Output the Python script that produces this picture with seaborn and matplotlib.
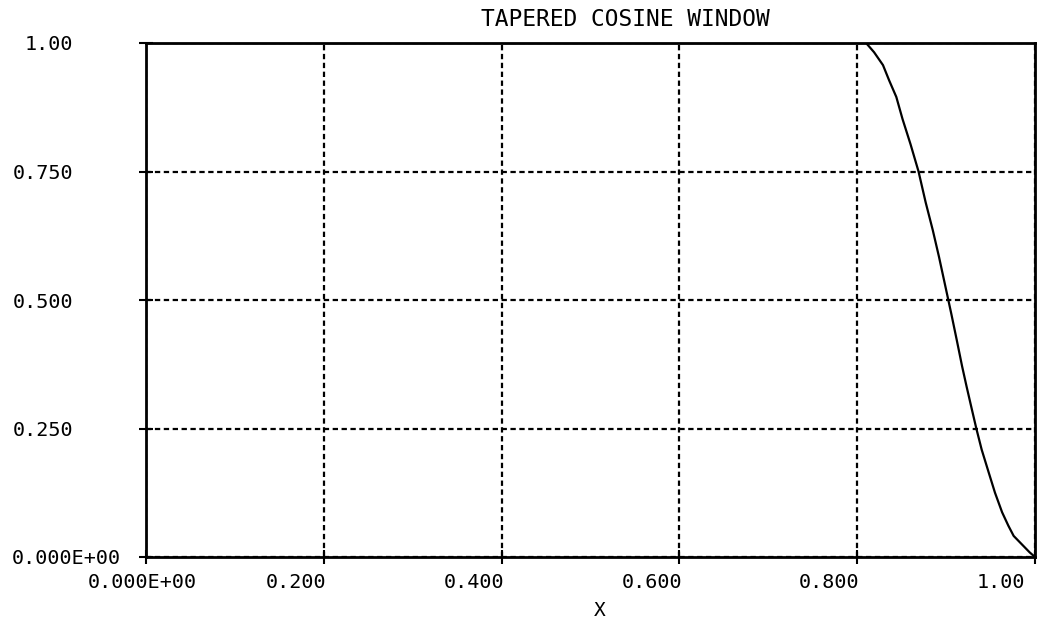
import numpy as np
import pandas as pd
import matplotlib
matplotlib.use("Agg")
import matplotlib.pyplot as plt
from matplotlib.transforms import ScaledTranslation
import seaborn as sns

# Tapered cosine window: flat at 1 then rolls off to 0 at the end of the record
window_x = [0.000, 0.810, 0.819, 0.829, 0.836, 0.844, 0.851, 0.860, 0.869,
            0.877, 0.885, 0.892, 0.900, 0.906, 0.912, 0.918, 0.923,
            0.929, 0.934, 0.940, 0.948, 0.955, 0.963, 0.970, 0.976, 0.985,
            0.994, 1.000]
window_y = [1.000, 1.000, 0.982, 0.957, 0.927, 0.895, 0.852, 0.803, 0.750,
            0.690, 0.636, 0.584, 0.520, 0.472, 0.422, 0.371, 0.332,
            0.287, 0.250, 0.209, 0.164, 0.125, 0.087, 0.061, 0.041, 0.025,
            0.009, 0.000]

x_ticks = [0.0, 0.2, 0.4, 0.6, 0.8, 1.0]
x_tick_labels = ["0.000E+00", "0.200", "0.400", "0.600", "0.800", "1.00"]
y_ticks = [0.0, 0.25, 0.5, 0.75, 1.0]
y_tick_labels = ["0.000E+00", "0.250", "0.500", "0.750", "1.00"]

title_text = "TAPERED COSINE WINDOW"
x_label = "X"

sns.set_theme(style="white")
plt.rcParams["font.family"] = ["DejaVu Sans Mono", "DejaVu Sans"]

W, H, DPI = 1047, 622, 100
fig = plt.figure(figsize=(W / DPI, H / DPI), dpi=DPI, facecolor="white")
ax_l, ax_r, ax_t, ax_b = 146, 1035, 43, 557
ax = fig.add_axes([ax_l / W, 1 - ax_b / H, (ax_r - ax_l) / W, (ax_b - ax_t) / H])
ax.set_facecolor("white")

df = pd.DataFrame({"x": window_x, "y": window_y})
sns.lineplot(data=df, x="x", y="y", ax=ax, color="black", linewidth=1.6,
             sort=False, estimator=None)

ax.set_xlim(0, 1)
ax.set_ylim(0, 1)

# Dotted grid at the interior ticks
ax.grid(True, color="black", linestyle=(0, (2.4, 1.6)), linewidth=1.6)
for s in ax.spines.values():
    s.set_visible(True)
    s.set_color("black")
    s.set_linewidth(2.0)

ax.set_xticks(x_ticks)
ax.set_xticklabels(x_tick_labels)
ax.set_yticks(y_ticks)
ax.set_yticklabels(y_tick_labels)

tick_len = 10  # points, half drawn outside the frame
ax.tick_params(axis="both", which="major", direction="inout", length=tick_len,
               width=1.5, color="black", labelsize=14.5, labelcolor="black",
               bottom=True, left=True, top=False, right=False)
ax.tick_params(axis="x", pad=0)
ax.tick_params(axis="y", pad=0)

out_px = tick_len / 2 * DPI / 72

# x labels start a little left of their tick
for lab in ax.get_xticklabels():
    lab.set_ha("left")
    lab.set_va("center")
    lab.set_transform(lab.get_transform() +
                      ScaledTranslation(-58 / DPI, -(583 - ax_b - out_px) / DPI,
                                        fig.dpi_scale_trans))

# short y labels end at a common column, the long zero label starts at the margin
for lab in ax.get_yticklabels():
    if len(lab.get_text()) > 6:
        lab.set_ha("left")
        dx = 12 - (ax_l - out_px)
    else:
        lab.set_ha("right")
        dx = 73 - (ax_l - out_px)
    lab.set_transform(lab.get_transform() +
                      ScaledTranslation(dx / DPI, 0, fig.dpi_scale_trans))

ax.set_xlabel(x_label, fontsize=14, color="black", va="center")
ax.xaxis.set_label_coords((600 - ax_l) / (ax_r - ax_l),
                          (ax_b - 610) / (ax_b - ax_t))
ax.set_ylabel("")

fig.text(625 / W, 1 - 20 / H, title_text, ha="center", va="center",
         fontsize=16.5, color="black")

fig.savefig("out.png", dpi=DPI, facecolor="white")
